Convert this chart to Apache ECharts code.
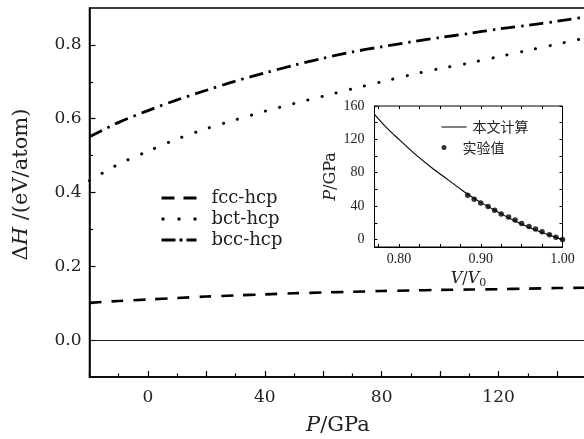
<!DOCTYPE html>
<html>
<head>
<meta charset="utf-8">
<script src="https://cdn.jsdelivr.net/npm/echarts@6/dist/echarts.min.js"></script>
<style>html,body{margin:0;padding:0;background:#fff}#c{width:584px;height:439px}</style>
</head>
<body>
<div id="c"></div>
<script>
// ---- main chart data ----
const pressure = [-20,-10,0,10,20,30,40,50,60,70,80,90,100,110,120,130,140,150];
const fccHcp = [0.101,0.106,0.110,0.114,0.118,0.121,0.124,0.127,0.129,0.131,0.133,0.1345,0.136,0.137,0.138,0.1395,0.141,0.142];
const bctHcp = [0.432,0.477,0.512,0.545,0.573,0.597,0.620,0.641,0.661,0.681,0.700,0.719,0.736,0.751,0.768,0.785,0.802,0.819];
const bccHcp = [0.551,0.590,0.622,0.651,0.677,0.702,0.724,0.745,0.764,0.781,0.795,0.808,0.820,0.831,0.843,0.853,0.864,0.876];
const mainXLabels = [0,40,80,120];
const mainYLabels = [0.0,0.2,0.4,0.6,0.8];
const mainYMinor = [0.1,0.3,0.5,0.7];
// ---- inset data ----
const vCalc = [0.77,0.78,0.79,0.80,0.82,0.84,0.86,0.88,0.90,0.92,0.94,0.96,0.98,1.00];
const pCalc = [150,139,129,120,102,86,71.5,57,44.5,33.5,23,14,6.5,0];
const vExp = [0.884,0.892,0.900,0.909,0.917,0.925,0.934,0.942,0.950,0.959,0.967,0.975,0.984,0.992,1.000];
const pExp = [53.1,48.3,43.8,39.4,35.0,30.6,27.0,23.3,19.3,15.7,12.5,9.3,5.6,2.8,0.0];
const insetXTicks = [0.775,0.8,0.825,0.85,0.875,0.9,0.925,0.95,0.975,1.0];
const insetXLabels = [0.8,0.9,1.0];
const insetYTicks = [0,20,40,60,80,100,120,140,160];
const insetYLabels = [0,40,80,120,160];

const zip = (a,b) => a.map((v,i) => [v,b[i]]);
const SERIF = 'DejaVu Serif';
const LSERIF = 'Liberation Serif';
const nameRich = (fs) => ({
  n:{fontFamily:SERIF,fontSize:fs,color:'#222',lineHeight:fs+4},
  i:{fontFamily:SERIF,fontSize:fs,fontStyle:'italic',color:'#222',lineHeight:fs+4},
  s:{fontFamily:SERIF,fontSize:Math.round(fs*0.7),color:'#222',verticalAlign:'bottom'}
});
// legend icons drawn as line patterns
const ICON_DASH = 'path://M0,0h13v3h-13zM22,0h13v3h-13z';
const ICON_DOT = 'path://M0,0h3v3h-3zM16,0h3v3h-3zM32,0h3v3h-3z';
const ICON_DASHDOT = 'path://M0,0h14v3h-14zM18,0h3v3h-3zM25,0h10v3h-10z';
const ICON_LINE = 'path://M0,0h25v1h-25z';

const chart = echarts.init(document.getElementById('c'), null, {renderer:'canvas'});
chart.setOption({
  animation:false,
  backgroundColor:'#fff',
  grid:[
    {left:89.5, top:8, width:496.7, bottom:62, show:true, outerBoundsMode:'none', borderColor:'#000', borderWidth:1.5},
    {left:374.5, top:106, width:188, height:141, show:true, outerBoundsMode:'none', borderColor:'#000', borderWidth:1, backgroundColor:'#fff'}
  ],
  xAxis:[
    {gridIndex:0, type:'value', min:-20, max:150, interval:20,
     axisLine:{show:true,onZero:false,lineStyle:{color:'#000',width:1.5}},
     axisTick:{show:true,inside:true,length:6,lineStyle:{color:'#000',width:1.2}},
     minorTick:{show:true,splitNumber:2,length:3.5,lineStyle:{color:'#000',width:1.2}},
     splitLine:{show:false},
     axisLabel:{margin:12,fontFamily:SERIF,fontSize:17,color:'#222',
       formatter:(v)=> mainXLabels.indexOf(v)>=0 ? String(v) : ''},
     name:'{i|P}{n|/GPa}', nameLocation:'middle', nameGap:36,
     nameTextStyle:{rich:nameRich(21)}
    },
    {gridIndex:1, type:'value', min:0.77, max:1.0, position:'bottom',
     axisLine:{show:true,onZero:false,lineStyle:{color:'#000',width:1}},
     axisTick:{show:true,inside:true,length:3,customValues:insetXTicks,lineStyle:{color:'#000'}},
     splitLine:{show:false},
     axisLabel:{margin:5,fontFamily:LSERIF,fontSize:14,color:'#222',customValues:insetXLabels,
       formatter:(v)=>v.toFixed(2)},
     name:'{i|V}{n|/}{i|V}{s|0}', nameLocation:'middle', nameGap:22,
     nameTextStyle:{rich:nameRich(16)}
    },
    {gridIndex:1, type:'value', min:0.77, max:1.0, position:'top',
     axisLine:{show:false,onZero:false},
     axisTick:{show:true,inside:true,length:3,customValues:insetXTicks,lineStyle:{color:'#000'}},
     splitLine:{show:false}, axisLabel:{show:false}
    }
  ],
  yAxis:[
    {gridIndex:0, type:'value', min:-0.1, max:0.9,
     axisLine:{show:true,onZero:false,lineStyle:{color:'#000',width:1.5}},
     axisTick:{show:true,inside:true,length:6,customValues:mainYLabels,lineStyle:{color:'#000',width:1.2}},
     splitLine:{show:false},
     axisLabel:{margin:8,fontFamily:SERIF,fontSize:17,color:'#222',customValues:mainYLabels,
       formatter:(v)=>v.toFixed(1)},
     name:'{n|Δ}{i|H}{n| /(eV/atom)}', nameLocation:'middle', nameGap:55,
     nameTextStyle:{rich:nameRich(21), padding:[0,0,0,16]}
    },
    {gridIndex:0, type:'value', min:-0.1, max:0.9, position:'left',
     axisLine:{show:false,onZero:false},
     axisTick:{show:true,inside:true,length:3.5,customValues:mainYMinor,lineStyle:{color:'#000',width:1.2}},
     splitLine:{show:false}, axisLabel:{show:false}
    },
    {gridIndex:1, type:'value', min:-9, max:160, position:'left',
     axisLine:{show:true,onZero:false,lineStyle:{color:'#000',width:1}},
     axisTick:{show:true,inside:true,length:3,customValues:insetYTicks,lineStyle:{color:'#000'}},
     splitLine:{show:false},
     axisLabel:{margin:10,fontFamily:LSERIF,fontSize:14,color:'#222',customValues:insetYLabels},
     name:'{i|P}{n|/GPa}', nameLocation:'middle', nameGap:34,
     nameTextStyle:{rich:nameRich(16)}
    },
    {gridIndex:1, type:'value', min:-9, max:160, position:'right',
     axisLine:{show:false,onZero:false},
     axisTick:{show:true,inside:true,length:3,customValues:insetYTicks,lineStyle:{color:'#000'}},
     splitLine:{show:false}, axisLabel:{show:false}
    }
  ],
  legend:[
    {left:161.5, top:189, padding:0, orient:'vertical', itemWidth:35, itemHeight:3, itemGap:3,
     data:[{name:'fcc-hcp',icon:ICON_DASH},{name:'bct-hcp',icon:ICON_DOT},{name:'bcc-hcp',icon:ICON_DASHDOT}],
     itemStyle:{color:'#000',borderWidth:0},
     textStyle:{fontFamily:SERIF,fontSize:18,color:'#222',lineHeight:14,padding:[0,0,0,10]}},
    {left:441.5, top:120, padding:0, orient:'vertical', itemWidth:25, itemHeight:1,
     data:[{name:'本文计算',icon:ICON_LINE}],
     itemStyle:{color:'#000',borderWidth:0},
     textStyle:{fontFamily:'Noto Sans CJK SC',fontSize:14,color:'#222',padding:[0,0,0,1]}},
    {left:441.5, top:140.5, padding:0, orient:'vertical', itemWidth:25, itemHeight:5,
     data:[{name:'实验值',icon:'circle'}],
     itemStyle:{color:'#000',borderWidth:0},
     textStyle:{fontFamily:'Noto Sans CJK SC',fontSize:14,color:'#222',padding:[0,0,0,1]}}
  ],
  series:[
    {name:'fcc-hcp', type:'line', xAxisIndex:0, yAxisIndex:0, data:zip(pressure,fccHcp),
     smooth:0.3, showSymbol:false, symbol:'none',
     lineStyle:{color:'#000',width:2.6,type:[12,10],cap:'butt'}, itemStyle:{color:'#000'},
     markLine:{silent:true, symbol:['none','none'], label:{show:false},
       lineStyle:{color:'#222',width:1,type:'solid'}, data:[{yAxis:0}]}},
    {name:'bct-hcp', type:'line', xAxisIndex:0, yAxisIndex:0, data:zip(pressure,bctHcp),
     smooth:0.3, showSymbol:false, symbol:'none',
     lineStyle:{color:'#000',width:3,type:[0.1,14.5],cap:'round'}, itemStyle:{color:'#000'}},
    {name:'bcc-hcp', type:'line', xAxisIndex:0, yAxisIndex:0, data:zip(pressure,bccHcp),
     smooth:0.3, showSymbol:false, symbol:'none',
     lineStyle:{color:'#000',width:2.8,type:[14,6,2.5,6],cap:'butt'}, itemStyle:{color:'#000'}},
    {name:'本文计算', type:'line', xAxisIndex:1, yAxisIndex:2, data:zip(vCalc,pCalc),
     smooth:0.3, showSymbol:false, symbol:'none',
     lineStyle:{color:'#000',width:1.1}, itemStyle:{color:'#000'}},
    {name:'实验值', type:'scatter', xAxisIndex:1, yAxisIndex:2, data:zip(vExp,pExp),
     symbol:'circle', symbolSize:5.5, itemStyle:{color:'#000'}, z:5}
  ]
});
</script>
</body>
</html>
